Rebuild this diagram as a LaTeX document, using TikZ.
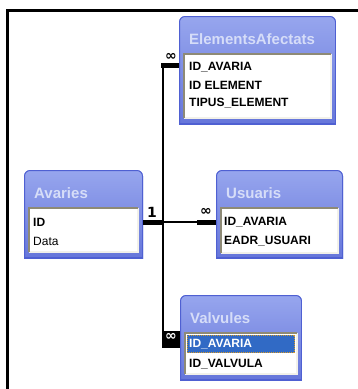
\documentclass[tikz,border=0pt]{standalone}
\usepackage{fontspec}
\setmainfont{Liberation Sans}
\newfontfamily\markfont{DejaVu Sans}
\usetikzlibrary{calc}

\definecolor{tabtop}{HTML}{97A6EE}
\definecolor{tabbot}{HTML}{6676DA}
\definecolor{tabedge}{HTML}{4F60D2}
\definecolor{titletext}{HTML}{D6DDF8}
\definecolor{wellshade}{HTML}{8E8A76}
\definecolor{welllight}{HTML}{F2F1EA}
\definecolor{selblue}{HTML}{316AC5}
\definecolor{focusdot}{HTML}{D89A2A}

\tikzset{
  frameline/.style={line width=3pt, black},
  relthin/.style={line width=2pt, black},
  relthick/.style={line width=5pt, black},
  tabtitle/.style={anchor=west, inner sep=0pt, text=titletext,
    font=\bfseries\fontsize{15}{15}\selectfont},
  keyfield/.style={anchor=west, inner sep=0pt,
    font=\bfseries\fontsize{12}{12}\selectfont},
  plainfield/.style={anchor=west, inner sep=0pt,
    font=\fontsize{12}{12}\selectfont},
  cardmark/.style={inner sep=0pt, font=\markfont\bfseries\fontsize{14}{14}\selectfont},
}

% Access-style table window:
% #1 name, #2 left, #3 top, #4 right, #5 bottom, #6 field-list top, #7 field-list bottom, #8 title
\newcommand{\acctable}[8]{%
  \begin{scope}
    \clip[rounded corners=6pt] (#2,#3) rectangle (#4,{#5+12});
    \clip (#2,#3) rectangle (#4,#5);
    \shade[top color=tabtop, bottom color=tabbot] (#2,#3) rectangle (#4,#5);
    \draw[tabedge, line width=2pt, rounded corners=6pt] (#2,#3) rectangle (#4,{#5+12});
    \draw[tabedge, line width=2pt] (#2,#5) -- (#4,#5);
  \end{scope}
  \fill[white] ({#2+5},#6) rectangle ({#4-5},#7);
  \draw[welllight, line width=1.5pt] ({#2+5},#7) -- ({#4-5},#7) -- ({#4-5},#6);
  \draw[wellshade, line width=2pt] ({#2+5},#7) -- ({#2+5},#6) -- ({#4-5},#6);
  \coordinate (#1-nw) at (#2,#3);
  \coordinate (#1-se) at (#4,#5);
  \node[tabtitle] (#1-title) at ({#2+10},{#3+23}) {#8};
}

\begin{document}
\begin{tikzpicture}[x=1pt, y=-1pt]
  \useasboundingbox (0,0) rectangle (358,389);

  % outer frame (top and left edges)
  \draw[frameline] (7,390) -- (7,10) -- (359,10);

  % tables
  \acctable{ea}{179}{16}{336}{124}{54}{118}{ElementsAfectats}
  \node[keyfield] (ea-id) at (189,67) {ID\_AVARIA};
  \node[keyfield] (ea-el) at (189,85) {ID ELEMENT};
  \node[keyfield] (ea-tip) at (189,103) {TIPUS\_ELEMENT};

  \acctable{av}{24}{170}{143}{258}{208}{252}{Avaries}
  \node[keyfield] (av-id) at (33,222) {ID};
  \node[plainfield] (av-data) at (33,241) {Data};

  \acctable{us}{216}{170}{343}{258}{208}{253}{Usuaris}
  \node[keyfield] (us-id) at (224,222) {ID\_AVARIA};
  \node[keyfield] (us-eadr) at (224,241) {EADR\_USUARI};

  \acctable{va}{180}{295}{302}{380}{333}{374}{Valvules}
  \fill[selblue] (187,335) rectangle (295,353);
  \draw[focusdot, densely dotted, line width=1pt] (187.5,335.5) rectangle (294.5,352.5);
  \node[keyfield, text=white] (va-id) at (189,344) {ID\_AVARIA};
  \node[keyfield] (va-val) at (189,364) {ID\_VALVULA};

  % relationship lines
  \coordinate (hub) at (163,222);
  \coordinate (trunk-top) at (163,65);
  \coordinate (trunk-bot) at (163,344);
  \coordinate (us-stub) at (197,222);

  \draw[relthin] (trunk-top) -- (trunk-bot);
  \draw[relthick] (av-se |- av-id) -- (hub);
  \draw[relthin] (hub) -- (us-stub);
  \draw[relthick] (us-stub) -- (us-nw |- us-id);
  \draw[relthick] ($(trunk-top)+(-2,0)$) -- (ea-nw |- trunk-top);

  % cardinality marks
  \node[cardmark] (one-av) at (152,212) {1};
  \node[cardmark] (many-us) at (206,212) {∞};
  \node[cardmark] (many-ea) at (171,57) {∞};
  \node[fill=black, minimum width=18pt, minimum height=17pt, inner sep=0pt]
    (many-va-box) at (171,339.5) {};
  \draw[relthick] (trunk-bot) -- (va-nw |- trunk-bot);
  \node[cardmark, text=white] (many-va) at (171,337) {∞};
\end{tikzpicture}
\end{document}
